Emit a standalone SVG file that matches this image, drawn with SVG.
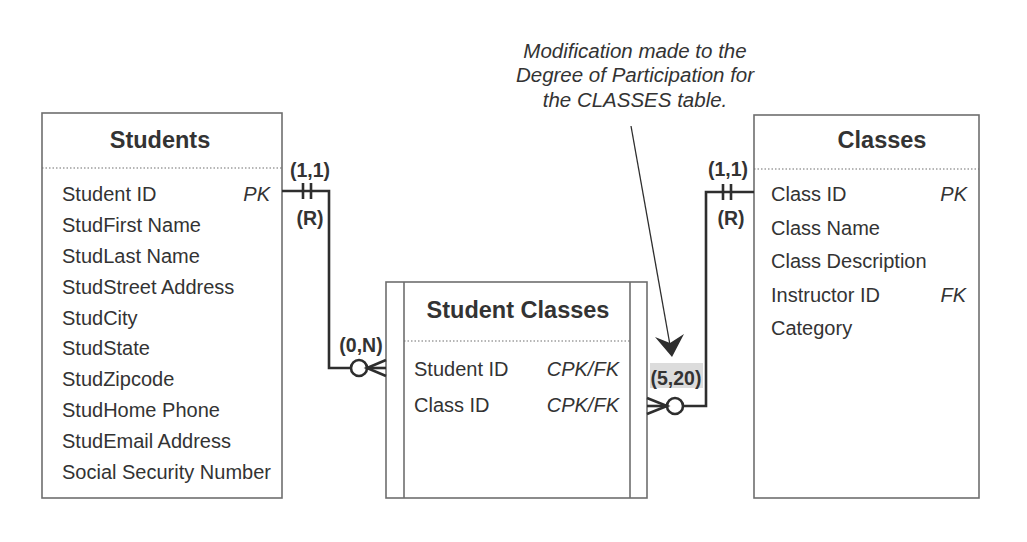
<svg xmlns="http://www.w3.org/2000/svg" width="1027" height="542" viewBox="0 0 1027 542">
<style>
.box{fill:#fff;stroke:#6e6e6e;stroke-width:1.6}
.sep{stroke:#6e6e6e;stroke-width:1.2;stroke-dasharray:1.5 2}
.title{font-family:"Liberation Sans",Arial,sans-serif;font-weight:bold;font-size:23.5px;fill:#333;text-anchor:middle}
.attr{font-family:"Liberation Sans",Arial,sans-serif;font-size:20px;fill:#333}
.key{font-family:"Liberation Sans",Arial,sans-serif;font-size:20px;font-style:italic;fill:#333;text-anchor:end}
.lbl{font-family:"Liberation Sans",Arial,sans-serif;font-weight:bold;font-size:19.5px;fill:#333;text-anchor:middle}
.note{font-family:"Liberation Sans",Arial,sans-serif;font-style:italic;font-size:20.5px;fill:#333;text-anchor:middle}
.conn{fill:none;stroke:#2e2e2e;stroke-width:2.6}
</style>
<rect width="1027" height="542" fill="#fff"/>

<g id="students">
<rect class="box" x="42" y="113" width="240" height="385"/>
<text class="title" x="160" y="148">Students</text>
<line class="sep" x1="42" y1="168" x2="282" y2="168"/>
<text class="attr" x="62" y="201">Student ID</text><text class="key" x="270" y="201">PK</text>
<text class="attr" x="62" y="232">StudFirst Name</text>
<text class="attr" x="62" y="263">StudLast Name</text>
<text class="attr" x="62" y="294">StudStreet Address</text>
<text class="attr" x="62" y="325">StudCity</text>
<text class="attr" x="62" y="355">StudState</text>
<text class="attr" x="62" y="386">StudZipcode</text>
<text class="attr" x="62" y="417">StudHome Phone</text>
<text class="attr" x="62" y="448">StudEmail Address</text>
<text class="attr" x="62" y="479">Social Security Number</text>
</g>

<g id="student-classes">
<rect class="box" x="386" y="282" width="261" height="216"/>
<line class="box" x1="404" y1="282" x2="404" y2="498"/>
<line class="box" x1="630" y1="282" x2="630" y2="498"/>
<text class="title" x="518" y="318">Student Classes</text>
<line class="sep" x1="404" y1="341" x2="630" y2="341"/>
<text class="attr" x="414" y="376">Student ID</text><text class="key" x="619" y="376">CPK/FK</text>
<text class="attr" x="414" y="412">Class ID</text><text class="key" x="619" y="412">CPK/FK</text>
</g>

<g id="classes">
<rect class="box" x="754" y="115" width="225" height="383"/>
<text class="title" x="882" y="148">Classes</text>
<line class="sep" x1="754" y1="169" x2="979" y2="169"/>
<text class="attr" x="771" y="201">Class ID</text><text class="key" x="967" y="201">PK</text>
<text class="attr" x="771" y="235">Class Name</text>
<text class="attr" x="771" y="268">Class Description</text>
<text class="attr" x="771" y="302">Instructor ID</text><text class="key" x="966" y="302">FK</text>
<text class="attr" x="771" y="335">Category</text>
</g>

<g id="connectors">
<polyline class="conn" points="282,191 329,191 329,368 351,368"/>
<line class="conn" x1="303" y1="183" x2="303" y2="199"/>
<line class="conn" x1="311" y1="183" x2="311" y2="199"/>
<circle class="conn" cx="359" cy="368" r="8"/>
<polyline class="conn" points="386,360 367,368 386,376"/>
<line class="conn" x1="367" y1="368" x2="386" y2="368"/>
<text class="lbl" x="310" y="177">(1,1)</text>
<text class="lbl" x="310" y="225">(R)</text>
<text class="lbl" x="361" y="352">(0,N)</text>

<polyline class="conn" points="754,192 706,192 706,406 683,406"/>
<line class="conn" x1="723" y1="184" x2="723" y2="200"/>
<line class="conn" x1="731" y1="184" x2="731" y2="200"/>
<circle class="conn" cx="675" cy="406" r="8"/>
<polyline class="conn" points="647,398 667,406 647,414"/>
<line class="conn" x1="647" y1="406" x2="667" y2="406"/>
<text class="lbl" x="728" y="176">(1,1)</text>
<text class="lbl" x="731" y="225">(R)</text>
<rect x="650" y="363" width="53" height="25" fill="#dcdcdc"/>
<text class="lbl" x="676" y="385">(5,20)</text>

<line x1="631" y1="126" x2="670" y2="345" stroke="#2e2e2e" stroke-width="1.3"/>
<path d="M672,357 L655,337 L670,343 L684,334 Z" fill="#2e2e2e"/>
</g>

<g id="note">
<text class="note" x="635" y="58">Modification made to the</text>
<text class="note" x="635" y="82">Degree of Participation for</text>
<text class="note" x="635" y="107">the CLASSES table.</text>
</g>
</svg>
